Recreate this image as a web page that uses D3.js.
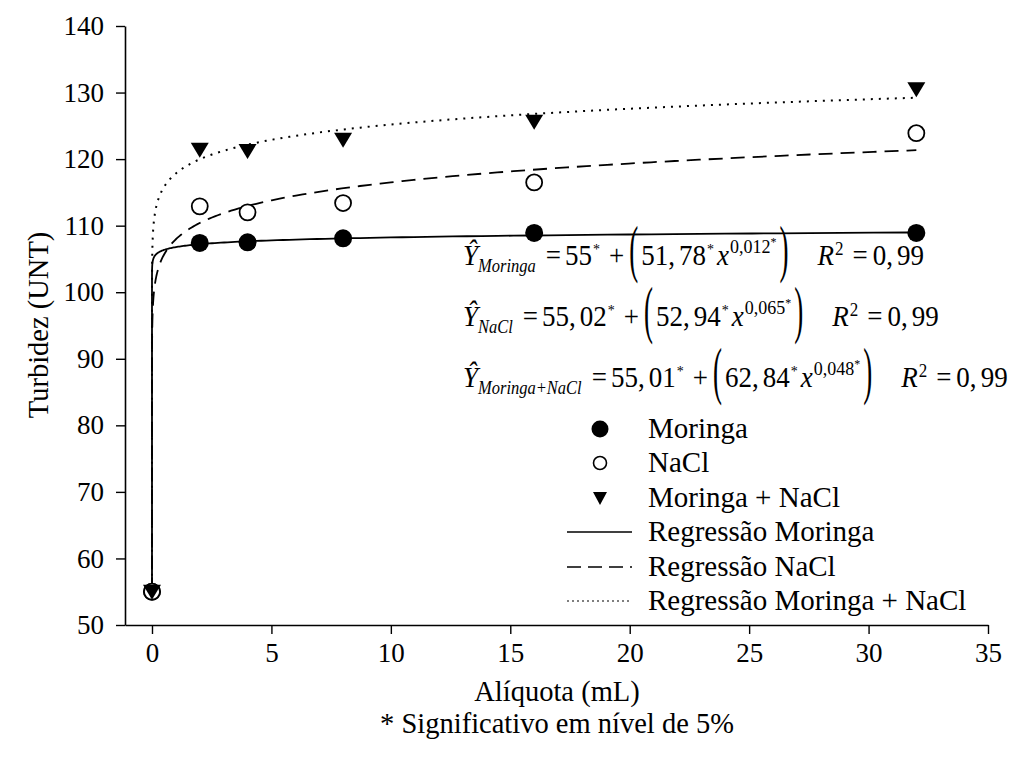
<!DOCTYPE html>
<html>
<head>
<meta charset="utf-8">
<script src="https://cdn.jsdelivr.net/npm/d3@7"></script>
</head>
<body style="margin:0">
<svg id="chart" width="1015" height="761"></svg>
<script>
// Data
const aliquota = [0, 2, 4, 8, 16, 32];
const moringa = [55, 107.4, 107.5, 108.1, 108.9, 108.9];
const nacl = [55, 112.9, 112.0, 113.4, 116.5, 123.9];
const moringaNacl = [55, 121.4, 121.2, 122.9, 125.6, 130.5];

// regression coefficients (Y = a + b * x^c), read from the equations
const regA = [55, 55.02, 55.01];
const regB = [51.78, 52.94, 62.84];
const regC = [0.012, 0.065, 0.048];

const xTicks = [0, 5, 10, 15, 20, 25, 30, 35];
const yTicks = [50, 60, 70, 80, 90, 100, 110, 120, 130, 140];

const FONT = 'Liberation Serif';
const svg = d3.select('#chart');
const margin = { top: 26, left: 125, right: 27, bottom: 136 };
const width = 1015 - margin.left - margin.right;
const height = 761 - margin.top - margin.bottom;

const x = d3.scaleLinear().domain([-1.13, 35]).range([0, width]);
const y = d3.scaleLinear().domain([50, 140]).range([height, 0]);

const g = svg.append('g')
    .attr('transform', `translate(${margin.left},${margin.top})`);

// Axes
const xAxis = g.append('g')
    .attr('transform', `translate(0,${height})`)
    .call(d3.axisBottom(x).tickValues(xTicks).tickSize(9).tickSizeOuter(0).tickPadding(9));
const yAxis = g.append('g')
    .call(d3.axisLeft(y).tickValues(yTicks).tickSize(9).tickSizeOuter(0).tickPadding(12));

[xAxis, yAxis].forEach(a => {
    a.attr('font-family', FONT).attr('font-size', 27);
    a.select('.domain').attr('stroke', '#000').attr('stroke-width', 1.6);
    a.selectAll('.tick line').attr('stroke', '#000').attr('stroke-width', 1.4);
    a.selectAll('.tick text').attr('fill', '#000');
});

// Regression curves
const curveX = [0].concat(d3.range(-5, Math.log10(32) + 1e-9, 0.02).map(e => Math.pow(10, e)));
curveX.push(32);
const dashes = [null, '14,8', '2,6'];
regA.forEach((a, i) => {
    const pts = curveX.map(v => [v, a + regB[i] * Math.pow(v, regC[i])]);
    g.append('path')
        .datum(pts)
        .attr('fill', 'none')
        .attr('stroke', '#000')
        .attr('stroke-width', i === 2 ? 2 : 1.8)
        .attr('stroke-dasharray', dashes[i])
        .attr('d', d3.line().x(d => x(d[0])).y(d => y(d[1])));
});

// Markers
const triPath = 'M-9,-7L9,-7L0,8Z';
function drawMarker(sel, kind) {
    if (kind === 0) sel.append('circle').attr('r', 9).attr('fill', '#000');
    else if (kind === 1) sel.append('circle').attr('r', 8).attr('fill', '#fff').attr('stroke', '#000').attr('stroke-width', 1.8);
    else sel.append('path').attr('d', triPath).attr('fill', '#000');
}
[moringa, nacl, moringaNacl].forEach((vals, k) => {
    vals.forEach((v, i) => {
        const m = g.append('g').attr('transform', `translate(${x(aliquota[i])},${y(v)})`);
        drawMarker(m, k);
    });
});

// Equations (widths measured on a canvas)
const ctx = document.createElement('canvas').getContext('2d');
function measure(t, size, it) {
    ctx.font = `${it ? 'italic ' : ''}${size}px "${FONT}"`;
    return ctx.measureText(t).width;
}
const COMMA_GAP = 4;
function equation(x0, yb, segs) {
    // slight vertical stretch, as in the original figure
    const eq = svg.append('g').attr('transform', `translate(0,${yb}) scale(1,1.1) translate(0,${-yb})`);
    let cx = x0;
    segs.forEach(s => {
        cx += s.gap || 0;
        const size = s.size || 27;
        const t = eq.append('text')
            .attr('font-family', FONT)
            .attr('font-size', size)
            .attr('font-style', s.it ? 'italic' : 'normal');
        let w = measure(s.t, size, s.it);
        if (s.paren) {
            t.attr('x', cx).attr('y', 0)
             .attr('transform', `translate(0,${yb - 9}) scale(1,2.1) translate(0,6.4)`)
             .text(s.t);
        } else if (s.comma && s.t.includes(',')) {
            const [p1, p2] = s.t.split(',');
            t.attr('x', cx).attr('y', yb + (s.dy || 0)).text(p1 + ',');
            t.append('tspan').attr('dx', COMMA_GAP).text(p2);
            w += COMMA_GAP;
        } else {
            t.attr('x', cx).attr('y', yb + (s.dy || 0)).text(s.t);
        }
        cx += w;
    });
}
function eqSegs(sub, a, b, c) {
    return [
        { t: 'Ŷ', it: true },
        { t: sub, it: true, size: 16.5, dy: 6, gap: 0 },
        { t: '=', gap: 10 },
        { t: a, gap: 4, comma: true },
        { t: '*', size: 14, dy: -10, gap: 1 },
        { t: '+', gap: 9 },
        { t: '(', paren: true, gap: 5 },
        { t: b, gap: 3, comma: true },
        { t: '*', size: 14, dy: -10, gap: 1 },
        { t: 'x', it: true, gap: 3 },
        { t: c, size: 18, dy: -11, gap: 1 },
        { t: '*', size: 12, dy: -17, gap: 0 },
        { t: ')', paren: true, gap: 3 },
        { t: 'R', it: true, gap: 29 },
        { t: '2', size: 17, dy: -9, gap: 1 },
        { t: '=', gap: 9 },
        { t: '0,99', gap: 5, comma: true }
    ];
}
equation(463, 265, eqSegs('Moringa', '55', '51,78', '0,012'));
equation(463, 326, eqSegs('NaCl', '55,02', '52,94', '0,065'));
equation(463, 387, eqSegs('Moringa+NaCl', '55,01', '62,84', '0,048'));

// Legend
const legendLabels = ['Moringa', 'NaCl', 'Moringa + NaCl', 'Regressão Moringa', 'Regressão NaCl', 'Regressão Moringa + NaCl'];
const legY = [429, 463, 498, 532, 567, 601];
legendLabels.forEach((lab, i) => {
    if (i < 3) {
        const m = svg.append('g').attr('transform', `translate(600,${legY[i]})`);
        if (i === 0) m.append('circle').attr('r', 8.5).attr('fill', '#000');
        else if (i === 1) m.append('circle').attr('r', 6.5).attr('fill', '#fff').attr('stroke', '#000').attr('stroke-width', 1.6);
        else m.append('path').attr('d', 'M-7,-6L7,-6L0,7Z').attr('fill', '#000');
    } else {
        svg.append('line')
            .attr('x1', 567).attr('x2', 632)
            .attr('y1', legY[i]).attr('y2', legY[i])
            .attr('stroke', '#000')
            .attr('stroke-width', i === 5 ? 1.2 : 1.6)
            .attr('stroke-dasharray', [null, '14,7', '2,3'][i - 3]);
    }
    svg.append('text')
        .attr('x', 648)
        .attr('y', legY[i] + 9)
        .attr('font-family', FONT)
        .attr('font-size', 29)
        .text(lab);
});

// Axis labels
svg.append('text')
    .attr('x', 557).attr('y', 701)
    .attr('text-anchor', 'middle')
    .attr('font-family', FONT)
    .attr('font-size', 28.5)
    .text('Alíquota (mL)');
svg.append('text')
    .attr('x', 557).attr('y', 733)
    .attr('text-anchor', 'middle')
    .attr('font-family', FONT)
    .attr('font-size', 28.5)
    .text('* Significativo em nível de 5%');
svg.append('text')
    .attr('transform', 'rotate(-90)')
    .attr('x', -325).attr('y', 48)
    .attr('text-anchor', 'middle')
    .attr('font-family', FONT)
    .attr('font-size', 28.5)
    .text('Turbidez (UNT)');
</script>
</body>
</html>
